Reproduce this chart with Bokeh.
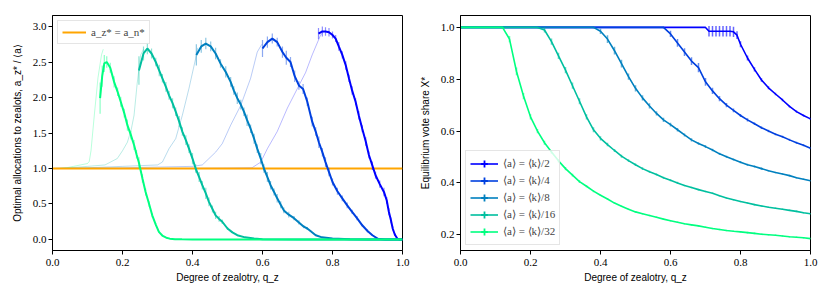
from bokeh.plotting import figure
from bokeh.models import Range1d, FixedTicker, Legend, LegendItem, ColumnDataSource, NumeralTickFormatter
from bokeh.layouts import row
from bokeh.embed import file_html
from bokeh.resources import INLINE

# ---------------- data ----------------
SERIES_LABELS = ["⟨a⟩ = ⟨k⟩/2", "⟨a⟩ = ⟨k⟩/4", "⟨a⟩ = ⟨k⟩/8", "⟨a⟩ = ⟨k⟩/16", "⟨a⟩ = ⟨k⟩/32"]
SERIES_COLORS = ["#0000ff", "#0040df", "#0080bf", "#00bf9f", "#00ff80"]

X_TICKS = [0.0, 0.2, 0.4, 0.6, 0.8, 1.0]
LEFT_Y_TICKS = [0.0, 0.5, 1.0, 1.5, 2.0, 2.5, 3.0]
RIGHT_Y_TICKS = [0.2, 0.4, 0.6, 0.8, 1.0]

# Left panel: thin (rising branch) curves
thin_q_k2 = [0, 0.3, 0.5, 0.57, 0.595, 0.614, 0.642, 0.671, 0.70, 0.723, 0.742, 0.766, 0.775]
thin_v_k2 = [1.0, 1.0, 1.005, 1.01, 1.09, 1.28, 1.52, 1.85, 2.13, 2.35, 2.6, 2.88, 2.93]
thin_q_k4 = [0, 0.2, 0.3, 0.4, 0.428, 0.466, 0.485, 0.509, 0.538, 0.566, 0.585, 0.598]
thin_v_k4 = [1.0, 1.01, 1.02, 1.03, 1.05, 1.23, 1.35, 1.61, 1.89, 2.27, 2.64, 2.75]
thin_q_k8 = [0, 0.1, 0.2, 0.25, 0.3, 0.314, 0.333, 0.352, 0.371, 0.39, 0.409, 0.415]
thin_v_k8 = [1.0, 1.01, 1.03, 1.04, 1.05, 1.09, 1.28, 1.42, 1.75, 2.13, 2.55, 2.7]
thin_q_k16 = [0, 0.05, 0.10, 0.15, 0.185, 0.20, 0.214, 0.225, 0.233, 0.242, 0.252, 0.26]
thin_v_k16 = [1.0, 1.01, 1.03, 1.05, 1.14, 1.25, 1.37, 1.55, 1.75, 2.2, 2.6, 2.68]
thin_q_k32 = [0, 0.02, 0.04, 0.06, 0.08, 0.10, 0.105, 0.11, 0.12, 0.13, 0.14, 0.145]
thin_v_k32 = [1.0, 1.0, 1.01, 1.03, 1.05, 1.07, 1.10, 1.25, 1.78, 2.28, 2.6, 2.68]

# Left panel: thick curves with error bars
alloc_q_k2 = [0.76, 0.771, 0.78, 0.79, 0.80, 0.809, 0.818, 0.828, 0.838, 0.847, 0.856, 0.866, 0.875, 0.885,
              0.895, 0.904, 0.914, 0.923, 0.935, 0.947, 0.955, 0.961, 0.967, 0.972, 0.978, 0.985, 0.99, 1.0]
alloc_v_k2 = [2.90, 2.93, 2.93, 2.92, 2.88, 2.83, 2.72, 2.6, 2.45, 2.27, 2.1, 1.94, 1.75, 1.56,
              1.38, 1.19, 1.04, 0.905, 0.78, 0.67, 0.55, 0.39, 0.27, 0.155, 0.07, 0.014, 0.0, 0.0]
alloc_e_k2 = [0.08, 0.07, 0.06, 0.06, 0.05, 0.05, 0.06, 0.05, 0.06, 0.05, 0.06, 0.05, 0.06, 0.05,
              0.06, 0.05, 0.06, 0.05, 0.05, 0.06, 0.05, 0.05, 0.04, 0.03, 0.02, 0.01, 0.0, 0.0]

alloc_q_k4 = [0.60, 0.614, 0.628, 0.642, 0.657, 0.668, 0.68, 0.692, 0.704, 0.716, 0.728, 0.742, 0.752, 0.761,
              0.771, 0.78, 0.79, 0.8, 0.814, 0.828, 0.842, 0.856, 0.87, 0.885, 0.9, 0.914, 0.93, 0.95, 1.0]
alloc_v_k4 = [2.69, 2.78, 2.83, 2.78, 2.64, 2.56, 2.50, 2.30, 2.17, 2.12, 1.94, 1.66, 1.52, 1.37,
              1.23, 1.09, 0.95, 0.81, 0.68, 0.58, 0.48, 0.39, 0.30, 0.20, 0.12, 0.06, 0.01, 0.0, 0.0]
alloc_e_k4 = [0.12, 0.08, 0.07, 0.06, 0.08, 0.1, 0.07, 0.08, 0.06, 0.07, 0.06, 0.07, 0.06, 0.08,
              0.06, 0.07, 0.06, 0.05, 0.05, 0.04, 0.04, 0.03, 0.03, 0.02, 0.02, 0.01, 0.005, 0.0, 0.0]

alloc_q_k8 = [0.411, 0.425, 0.438, 0.452, 0.466, 0.48, 0.495, 0.509, 0.518, 0.528, 0.538, 0.547, 0.556, 0.566,
              0.576, 0.585, 0.595, 0.604, 0.614, 0.623, 0.633, 0.642, 0.652, 0.661, 0.675, 0.69, 0.704, 0.718,
              0.728, 0.737, 0.752, 0.77, 0.8, 0.85, 0.9, 1.0]
alloc_v_k8 = [2.6, 2.72, 2.76, 2.72, 2.62, 2.48, 2.36, 2.22, 2.10, 1.99, 1.90, 1.80, 1.68, 1.56,
              1.42, 1.28, 1.14, 1.0, 0.88, 0.765, 0.67, 0.58, 0.49, 0.41, 0.35, 0.30, 0.24, 0.18,
              0.155, 0.12, 0.06, 0.03, 0.014, 0.003, 0.0, 0.0]
alloc_e_k8 = [0.15, 0.09, 0.08, 0.07, 0.08, 0.06, 0.08, 0.07, 0.06, 0.08, 0.07, 0.06, 0.08, 0.06,
              0.07, 0.06, 0.08, 0.06, 0.07, 0.06, 0.05, 0.06, 0.05, 0.04, 0.04, 0.03, 0.03, 0.02,
              0.02, 0.01, 0.008, 0.004, 0.002, 0.001, 0.0, 0.0]

alloc_q_k16 = [0.247, 0.26, 0.271, 0.283, 0.295, 0.305, 0.314, 0.324, 0.333, 0.343, 0.352, 0.362, 0.371, 0.381,
               0.39, 0.4, 0.409, 0.419, 0.428, 0.438, 0.447, 0.457, 0.466, 0.476, 0.485, 0.5, 0.514, 0.528,
               0.55, 0.576, 0.6, 0.7, 0.8, 0.9, 1.0]
alloc_v_k16 = [2.38, 2.62, 2.69, 2.62, 2.50, 2.38, 2.27, 2.15, 2.03, 1.92, 1.80, 1.66, 1.52, 1.40,
               1.28, 1.14, 1.0, 0.88, 0.765, 0.65, 0.53, 0.43, 0.34, 0.29, 0.25, 0.155, 0.1, 0.06,
               0.03, 0.014, 0.005, 0.0, 0.0, 0.0, 0.0]
alloc_e_k16 = [0.2, 0.1, 0.08, 0.07, 0.06, 0.08, 0.06, 0.07, 0.06, 0.07, 0.06, 0.08, 0.06, 0.07,
               0.06, 0.08, 0.06, 0.07, 0.06, 0.08, 0.06, 0.05, 0.05, 0.04, 0.03, 0.02, 0.01, 0.006,
               0.003, 0.002, 0.001, 0.0, 0.0, 0.0, 0.0]

alloc_q_k32 = [0.136, 0.142, 0.148, 0.155, 0.165, 0.176, 0.186, 0.195, 0.205, 0.214, 0.224, 0.233, 0.24, 0.247,
               0.257, 0.266, 0.276, 0.285, 0.295, 0.304, 0.315, 0.325, 0.335, 0.35, 0.37, 0.4, 0.5, 0.6,
               0.7, 0.8, 0.9, 1.0]
alloc_v_k32 = [1.99, 2.3, 2.48, 2.50, 2.42, 2.22, 2.08, 1.94, 1.78, 1.61, 1.47, 1.33, 1.2, 1.08,
               0.86, 0.67, 0.50, 0.34, 0.21, 0.107, 0.05, 0.025, 0.012, 0.005, 0.002, 0.0, 0.0, 0.0,
               0.0, 0.0, 0.0, 0.0]
alloc_e_k32 = [0.22, 0.15, 0.12, 0.08, 0.07, 0.08, 0.06, 0.07, 0.06, 0.08, 0.06, 0.07, 0.06, 0.08,
               0.06, 0.05, 0.04, 0.03, 0.02, 0.01, 0.005, 0.003, 0.002, 0.001, 0.0, 0.0, 0.0, 0.0,
               0.0, 0.0, 0.0, 0.0]

# Right panel: equilibrium vote share
share_q_k2 = [0.0, 0.70, 0.71, 0.72, 0.73, 0.74, 0.75, 0.76, 0.77, 0.78, 0.79, 0.80, 0.82, 0.84, 0.86,
              0.88, 0.90, 0.92, 0.94, 0.96, 0.98, 1.0]
share_v_k2 = [1.0, 1.0, 0.985, 0.985, 0.985, 0.985, 0.985, 0.985, 0.985, 0.983, 0.97, 0.935, 0.882, 0.838,
              0.797, 0.767, 0.743, 0.72, 0.695, 0.675, 0.66, 0.647]
share_e_k2 = [0.0, 0.0, 0.02, 0.02, 0.02, 0.02, 0.02, 0.02, 0.02, 0.02, 0.015, 0.012, 0.01, 0.008,
              0.007, 0.006, 0.005, 0.005, 0.004, 0.004, 0.004, 0.004]

share_q_k4 = [0.0, 0.58, 0.60, 0.62, 0.64, 0.66, 0.68, 0.70, 0.72, 0.74, 0.76, 0.78, 0.80, 0.82, 0.84,
              0.86, 0.88, 0.90, 0.92, 0.94, 0.96, 0.98, 1.0]
share_v_k4 = [1.0, 1.0, 0.975, 0.94, 0.905, 0.87, 0.845, 0.79, 0.755, 0.725, 0.70, 0.68, 0.66, 0.643,
              0.628, 0.613, 0.60, 0.588, 0.578, 0.566, 0.555, 0.545, 0.534]
share_e_k4 = [0.0, 0.003, 0.012, 0.015, 0.015, 0.015, 0.018, 0.015, 0.012, 0.01, 0.008, 0.007, 0.006,
              0.006, 0.005, 0.005, 0.005, 0.004, 0.004, 0.004, 0.004, 0.004, 0.004]

share_q_k8 = [0.0, 0.38, 0.40, 0.42, 0.44, 0.46, 0.48, 0.50, 0.52, 0.54, 0.56, 0.58, 0.60, 0.62, 0.64,
              0.66, 0.68, 0.70, 0.72, 0.74, 0.76, 0.78, 0.80, 0.82, 0.84, 0.86, 0.88, 0.90, 0.92, 0.94,
              0.96, 0.98, 1.0]
share_v_k8 = [1.0, 1.0, 0.985, 0.955, 0.91, 0.86, 0.81, 0.765, 0.728, 0.697, 0.668, 0.643, 0.625, 0.605,
              0.585, 0.566, 0.552, 0.54, 0.527, 0.512, 0.501, 0.49, 0.48, 0.47, 0.463, 0.455, 0.447,
              0.44, 0.434, 0.428, 0.42, 0.414, 0.408]
share_e_k8 = [0.0, 0.003, 0.01, 0.015, 0.015, 0.015, 0.012, 0.012, 0.01, 0.01, 0.008, 0.008, 0.007,
              0.007, 0.006, 0.006, 0.005, 0.005, 0.005, 0.004, 0.004, 0.004, 0.004, 0.004, 0.004,
              0.004, 0.003, 0.003, 0.003, 0.003, 0.003, 0.003, 0.003]

share_q_k16 = [0.0, 0.22, 0.24, 0.26, 0.28, 0.30, 0.32, 0.34, 0.36, 0.38, 0.40, 0.42, 0.44, 0.46, 0.48,
               0.50, 0.52, 0.54, 0.56, 0.58, 0.60, 0.62, 0.64, 0.66, 0.68, 0.70, 0.72, 0.74, 0.76, 0.78,
               0.80, 0.82, 0.84, 0.86, 0.88, 0.90, 0.92, 0.94, 0.96, 0.98, 1.0]
share_v_k16 = [1.0, 1.0, 0.99, 0.945, 0.89, 0.835, 0.775, 0.715, 0.655, 0.605, 0.572, 0.548, 0.525,
               0.503, 0.486, 0.47, 0.455, 0.443, 0.432, 0.42, 0.41, 0.40, 0.39, 0.382, 0.374, 0.367,
               0.36, 0.35, 0.342, 0.335, 0.328, 0.322, 0.316, 0.311, 0.306, 0.302, 0.298, 0.294,
               0.29, 0.285, 0.281]
share_e_k16 = [0.0, 0.003, 0.01, 0.012, 0.012, 0.012, 0.012, 0.012, 0.01, 0.01, 0.008, 0.007, 0.006,
               0.006, 0.005, 0.005, 0.005, 0.004, 0.004, 0.004, 0.004, 0.004, 0.003, 0.003, 0.003,
               0.003, 0.003, 0.003, 0.003, 0.003, 0.003, 0.003, 0.003, 0.003, 0.003, 0.003, 0.003,
               0.003, 0.003, 0.003, 0.003]

share_q_k32 = [0.0, 0.12, 0.14, 0.16, 0.18, 0.20, 0.22, 0.24, 0.26, 0.28, 0.30, 0.32, 0.34, 0.36, 0.38,
               0.40, 0.42, 0.44, 0.46, 0.48, 0.50, 0.52, 0.54, 0.56, 0.58, 0.60, 0.62, 0.64, 0.66, 0.68,
               0.70, 0.72, 0.74, 0.76, 0.78, 0.80, 0.82, 0.84, 0.86, 0.88, 0.90, 0.92, 0.94, 0.96, 0.98, 1.0]
share_v_k32 = [1.0, 1.0, 0.955, 0.83, 0.735, 0.655, 0.60, 0.555, 0.519, 0.485, 0.455, 0.43, 0.405, 0.387,
               0.368, 0.352, 0.338, 0.322, 0.31, 0.298, 0.288, 0.281, 0.274, 0.267, 0.26, 0.254, 0.248,
               0.242, 0.238, 0.234, 0.229, 0.224, 0.22, 0.216, 0.213, 0.211, 0.208, 0.205, 0.202, 0.2,
               0.198, 0.195, 0.192, 0.19, 0.188, 0.185]
share_e_k32 = [0.0, 0.003, 0.012, 0.015, 0.012, 0.01, 0.008, 0.008, 0.007, 0.006, 0.006, 0.005, 0.005,
               0.004, 0.004, 0.003, 0.003, 0.003, 0.003, 0.003, 0.003, 0.003, 0.003, 0.003, 0.003,
               0.003, 0.003, 0.003, 0.003, 0.003, 0.003, 0.003, 0.003, 0.003, 0.003, 0.003, 0.003,
               0.003, 0.003, 0.003, 0.003, 0.003, 0.003, 0.003, 0.003, 0.003]

THIN = [(thin_q_k2, thin_v_k2), (thin_q_k4, thin_v_k4), (thin_q_k8, thin_v_k8),
        (thin_q_k16, thin_v_k16), (thin_q_k32, thin_v_k32)]
ALLOC = [(alloc_q_k2, alloc_v_k2, alloc_e_k2), (alloc_q_k4, alloc_v_k4, alloc_e_k4),
         (alloc_q_k8, alloc_v_k8, alloc_e_k8), (alloc_q_k16, alloc_v_k16, alloc_e_k16),
         (alloc_q_k32, alloc_v_k32, alloc_e_k32)]
SHARE = [(share_q_k2, share_v_k2, share_e_k2), (share_q_k4, share_v_k4, share_e_k4),
         (share_q_k8, share_v_k8, share_e_k8), (share_q_k16, share_v_k16, share_e_k16),
         (share_q_k32, share_v_k32, share_e_k32)]

# ---------------- styling helpers ----------------
TICK_FONT = "Liberation Serif"
LABEL_FONT = "Liberation Sans"


def style(p, yticks):
    p.grid.visible = False
    p.outline_line_color = "black"
    p.outline_line_width = 1
    p.outline_line_alpha = 1
    for ax in (p.xaxis[0], p.yaxis[0]):
        ax.axis_line_color = "black"
        ax.major_tick_line_color = "black"
        ax.major_tick_out = 4
        ax.major_tick_in = 0
        ax.minor_tick_line_color = None
        ax.major_label_text_font = TICK_FONT
        ax.major_label_text_font_size = "11px"
        ax.major_label_text_color = "black"
        ax.axis_label_text_font = LABEL_FONT
        ax.axis_label_text_font_size = "10px"
        ax.axis_label_text_font_style = "normal"
        ax.axis_label_text_color = "black"
        ax.formatter = NumeralTickFormatter(format="0.0")
    p.xaxis[0].ticker = FixedTicker(ticks=X_TICKS)
    p.yaxis[0].ticker = FixedTicker(ticks=yticks)
    p.xaxis[0].major_label_standoff = 4
    p.yaxis[0].major_label_standoff = 2
    p.xaxis[0].axis_label_standoff = 3
    p.yaxis[0].axis_label_standoff = 7


# ---------------- left panel ----------------
p1 = figure(frame_width=350, frame_height=235, output_backend="svg", toolbar_location=None,
            x_range=Range1d(0, 1), y_range=Range1d(-0.155, 3.155),
            min_border_left=52, min_border_right=8, min_border_top=15, min_border_bottom=40)
style(p1, LEFT_Y_TICKS)
p1.xaxis[0].axis_label = "Degree of zealotry, q_z"
p1.yaxis[0].axis_label = "Optimal allocations to zealots, a_z* / ⟨a⟩"

for (tq, tv), col in zip(THIN, SERIES_COLORS):
    p1.line(tq, tv, line_color=col, line_width=0.8, line_alpha=0.35)

orange = p1.line([0.0, 1.0], [1.0, 1.0], line_color="#ffa500", line_width=2)

for (q, v, e), col in zip(ALLOC, SERIES_COLORS):
    src = ColumnDataSource(dict(q=q, lo=[a - b for a, b in zip(v, e)], hi=[a + b for a, b in zip(v, e)]))
    p1.segment(x0="q", y0="lo", x1="q", y1="hi", source=src, line_color=col, line_alpha=0.45, line_width=1.2)
    p1.line(q, v, line_color=col, line_width=2)

leg1 = Legend(items=[LegendItem(label="a_z* = a_n*", renderers=[orange])], location="top_left")
leg1.label_text_font = TICK_FONT
leg1.label_text_font_size = "11px"
leg1.glyph_width = 24
leg1.glyph_height = 14
leg1.label_height = 14
leg1.padding = 4
leg1.margin = 5
leg1.border_line_color = "#cccccc"
leg1.border_line_width = 1
leg1.background_fill_alpha = 0.8
p1.add_layout(leg1)

# ---------------- right panel ----------------
p2 = figure(frame_width=350, frame_height=235, output_backend="svg", toolbar_location=None,
            x_range=Range1d(0, 1), y_range=Range1d(0.139, 1.046),
            min_border_left=50, min_border_right=10, min_border_top=15, min_border_bottom=40)
style(p2, RIGHT_Y_TICKS)
p2.xaxis[0].axis_label = "Degree of zealotry, q_z"
p2.yaxis[0].axis_label = "Equilibrium vote share X*"

items = []
for (q, v, e), col, lab in zip(SHARE, SERIES_COLORS, SERIES_LABELS):
    src = ColumnDataSource(dict(q=q, v=v, lo=[a - b for a, b in zip(v, e)], hi=[a + b for a, b in zip(v, e)]))
    p2.segment(x0="q", y0="lo", x1="q", y1="hi", source=src, line_color=col, line_alpha=0.6, line_width=1.5)
    ln = p2.line("q", "v", source=src, line_color=col, line_width=1.6)
    # zero-size markers: invisible in the plot, but give the legend its "+" glyph
    cr = p2.scatter("q", "v", source=src, marker="cross", size=0, line_color=col, line_width=1.8)
    items.append(LegendItem(label=lab, renderers=[ln, cr]))

leg2 = Legend(items=items, location="bottom_left")
leg2.label_text_font = TICK_FONT
leg2.label_text_font_size = "11px"
leg2.glyph_width = 28
leg2.glyph_height = 17
leg2.label_height = 17
leg2.spacing = 0
leg2.padding = 4
leg2.margin = 5
leg2.border_line_color = "#cccccc"
leg2.border_line_width = 1
leg2.background_fill_alpha = 0.8
p2.add_layout(leg2)

layout = row(p1, p2)
open("out.html", "w").write(file_html(layout, INLINE))
